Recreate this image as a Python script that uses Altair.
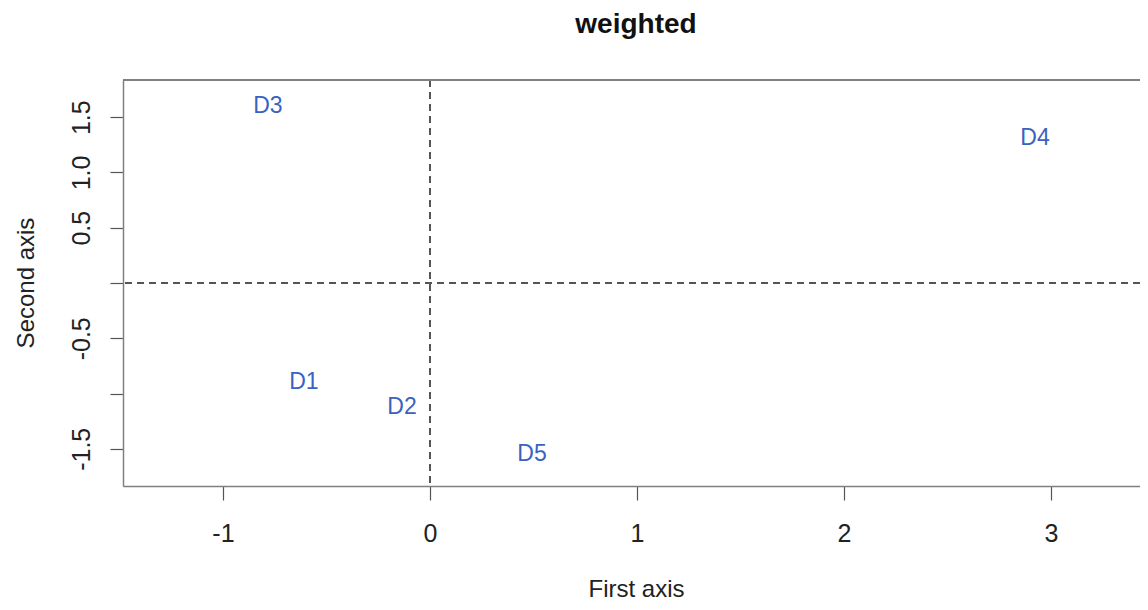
import altair as alt
import pandas as pd

labels = ["D1", "D2", "D3", "D4", "D5"]
first_axis = [-0.609, -0.135, -0.783, 2.923, 0.493]
second_axis = [-0.90, -1.12, 1.60, 1.31, -1.55]

x_ticks = [-1, 0, 1, 2, 3]
y_ticks = [-1.5, -1.0, -0.5, 0.0, 0.5, 1.0, 1.5]

df = pd.DataFrame({"label": labels, "x": first_axis, "y": second_axis})

W, H = 1017, 406
FONT = "Liberation Sans"

xscale = alt.Scale(domain=[-1.483, 3.430], nice=False, zero=False)
yscale = alt.Scale(domain=[-1.837, 1.837], nice=False, zero=False)

x_axis = alt.Axis(
    values=x_ticks, title="First axis", grid=False,
    labelExpr="replace(format(datum.value, 'd'), '\u2212', '-')",
    labelFontSize=25, labelFont=FONT, labelColor="#222",
    labelBaseline="alphabetic", labelPadding=41, labelFlush=False, labelOverlap=False,
    tickSize=14, tickColor="#555", tickWidth=1.2,
    domainColor="#808080", domainWidth=1.5,
    titleFontSize=24, titleFont=FONT, titleFontWeight="normal", titleColor="#222",
    titleBaseline="alphabetic", titleX=513, titleY=110, titleAlign="center",
)
y_axis = alt.Axis(
    values=y_ticks, title="Second axis", grid=False,
    labelExpr="indexof([0, -1], datum.value) >= 0 ? '' : replace(format(datum.value, '.1f'), '\u2212', '-')",
    labelAngle=270, labelAlign="center", labelBaseline="alphabetic",
    labelFontSize=25, labelFont=FONT, labelColor="#222",
    labelPadding=21, labelFlush=False, labelOverlap=False,
    tickSize=13, tickColor="#555", tickWidth=1.2,
    domainColor="#808080", domainWidth=1.5,
    titleFontSize=24, titleFont=FONT, titleFontWeight="normal", titleColor="#222",
    titleAngle=270, titleBaseline="alphabetic", titleAlign="center",
    titleX=-90, titleY=202.5,
)

base = alt.Chart(df)

points = base.mark_text(fontSize=23, font=FONT, color="#3a62c0", baseline="middle", align="center").encode(
    x=alt.X("x:Q", scale=xscale, axis=x_axis),
    y=alt.Y("y:Q", scale=yscale, axis=y_axis),
    text="label:N",
)

hline = base.mark_rule(color="#555", strokeDash=[7, 5], strokeWidth=1.6).encode(
    y=alt.datum(0, scale=yscale)
)
vline = base.mark_rule(color="#555", strokeDash=[7, 5], strokeWidth=1.2).encode(
    x=alt.datum(0, scale=xscale)
)
top_border = base.mark_rule(color="#808080", strokeWidth=1.5).encode(
    x=alt.value(0), x2=alt.value(W), y=alt.value(0)
)

chart = alt.layer(points, hline, vline, top_border).properties(
    width=W, height=H,
    title=alt.TitleParams("weighted", fontSize=28, font=FONT, fontWeight="bold",
                          color="#111", anchor="middle", dx=4.5, baseline="alphabetic", offset=18),
    autosize=alt.AutoSizeParams(type="none"),
    padding={"left": 115, "top": 72, "right": 0, "bottom": 116},
).configure_view(stroke=None).configure(background="white")

chart.save("out.html", embed_options={"renderer": "svg", "actions": False})
